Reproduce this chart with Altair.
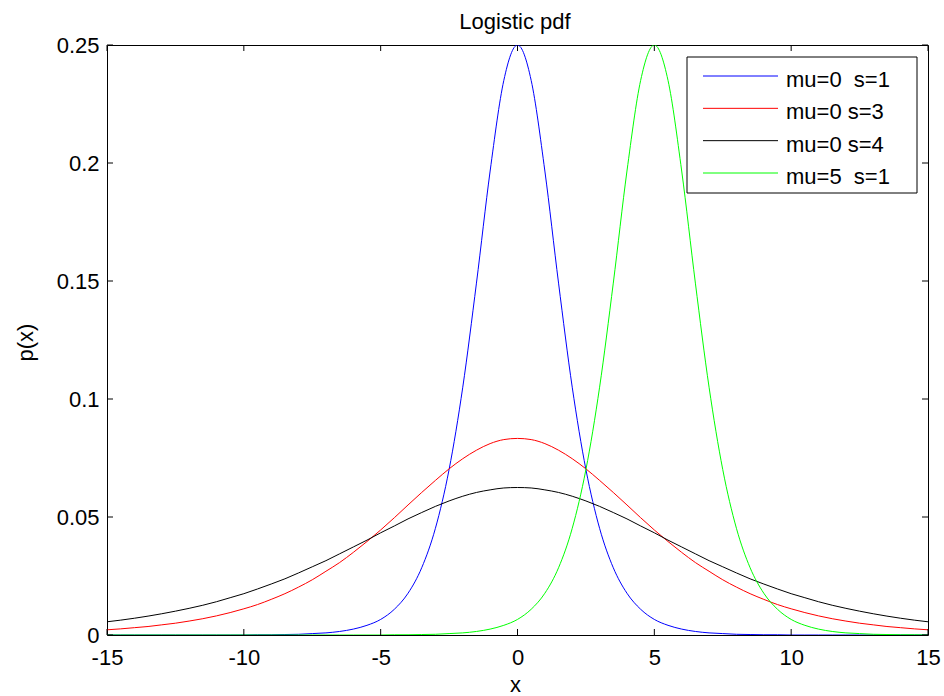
import altair as alt
import pandas as pd

FONT = "Liberation Sans"

# sample grid (x positions)
x_grid = [-15.0, -14.5, -14.0, -13.5, -13.0, -12.5, -12.0, -11.5, -11.0, -10.5,
          -10.0, -9.5, -9.0, -8.5, -8.0, -7.5, -7.0, -6.5, -6.0, -5.5,
          -5.0, -4.5, -4.0, -3.5, -3.0, -2.5, -2.0, -1.5, -1.0, -0.5,
          0.0,
          0.5, 1.0, 1.5, 2.0, 2.5, 3.0, 3.5, 4.0, 4.5, 5.0,
          5.5, 6.0, 6.5, 7.0, 7.5, 8.0, 8.5, 9.0, 9.5, 10.0,
          10.5, 11.0, 11.5, 12.0, 12.5, 13.0, 13.5, 14.0, 14.5, 15.0]

# values
p_mu0_s1 = [0, 0, 0, 0, 0, 0, 0, 0, 0, 0,
            0.0000, 0.0001, 0.0001, 0.0002, 0.0003, 0.0006, 0.0009, 0.0015, 0.0025, 0.0041,
            0.0066, 0.0109, 0.0177, 0.0285, 0.0452, 0.0701, 0.1050, 0.1491, 0.1966, 0.2350,
            0.2500,
            0.2350, 0.1966, 0.1491, 0.1050, 0.0701, 0.0452, 0.0285, 0.0177, 0.0109, 0.0066,
            0.0041, 0.0025, 0.0015, 0.0009, 0.0006, 0.0003, 0.0002, 0.0001, 0.0001, 0.0000,
            0, 0, 0, 0, 0, 0, 0, 0, 0, 0]

p_mu0_s3 = [0.0022, 0.0026, 0.0031, 0.0036, 0.0043, 0.0050, 0.0059, 0.0069, 0.0081, 0.0095,
            0.0111, 0.0129, 0.0151, 0.0175, 0.0203, 0.0234, 0.0270, 0.0307, 0.0350, 0.0396,
            0.0445, 0.0497, 0.0551, 0.0604, 0.0655, 0.0704, 0.0747, 0.0783, 0.0811, 0.0828,
            0.0833,
            0.0828, 0.0811, 0.0783, 0.0747, 0.0704, 0.0655, 0.0604, 0.0551, 0.0497, 0.0445,
            0.0396, 0.0350, 0.0307, 0.0270, 0.0234, 0.0203, 0.0175, 0.0151, 0.0129, 0.0111,
            0.0095, 0.0081, 0.0069, 0.0059, 0.0050, 0.0043, 0.0036, 0.0031, 0.0026, 0.0022]

p_mu0_s4 = [0.0056, 0.0063, 0.0071, 0.0080, 0.0090, 0.0101, 0.0113, 0.0126, 0.0141, 0.0158,
            0.0175, 0.0195, 0.0216, 0.0238, 0.0263, 0.0289, 0.0315, 0.0344, 0.0373, 0.0402,
            0.0433, 0.0462, 0.0492, 0.0519, 0.0545, 0.0568, 0.0588, 0.0604, 0.0615, 0.0623,
            0.0625,
            0.0623, 0.0615, 0.0604, 0.0588, 0.0568, 0.0545, 0.0519, 0.0492, 0.0462, 0.0433,
            0.0402, 0.0373, 0.0344, 0.0315, 0.0289, 0.0263, 0.0238, 0.0216, 0.0195, 0.0175,
            0.0158, 0.0141, 0.0126, 0.0113, 0.0101, 0.0090, 0.0080, 0.0071, 0.0063, 0.0056]

p_mu5_s1 = [0, 0, 0, 0, 0, 0, 0, 0, 0, 0,
            0, 0, 0, 0, 0, 0, 0, 0, 0, 0,
            0.0000, 0.0001, 0.0001, 0.0002, 0.0003, 0.0006, 0.0009, 0.0015, 0.0025, 0.0041,
            0.0066,
            0.0109, 0.0177, 0.0285, 0.0452, 0.0701, 0.1050, 0.1491, 0.1966, 0.2350, 0.2500,
            0.2350, 0.1966, 0.1491, 0.1050, 0.0701, 0.0452, 0.0285, 0.0177, 0.0109, 0.0066,
            0.0041, 0.0025, 0.0015, 0.0009, 0.0006, 0.0003, 0.0002, 0.0001, 0.0001, 0.0000]

series_names = ["mu=0\u00a0 s=1", "mu=0 s=3", "mu=0 s=4", "mu=5\u00a0 s=1"]
series_colors = ["#0000ff", "#ff0000", "#000000", "#00ff00"]
series_values = [p_mu0_s1, p_mu0_s3, p_mu0_s4, p_mu5_s1]

x_ticks = [-15, -10, -5, 0, 5, 10, 15]
y_ticks = [0, 0.05, 0.1, 0.15, 0.2, 0.25]
title_text = ["Logistic pdf"]

rows = []
for name, vals in zip(series_names, series_values):
    for xv, pv in zip(x_grid, vals):
        rows.append({"series": name, "x": xv, "p": pv})
df = pd.DataFrame(rows)

W, H = 821, 590

color_enc = alt.Color("series:N", scale=alt.Scale(domain=series_names, range=series_colors), legend=None)

axis_style = dict(labelFont=FONT, labelFontSize=22, labelColor="black",
                  titleFont=FONT, titleFontSize=22, titleFontWeight="normal", titleColor="black",
                  ticks=False, domain=False, grid=False, labelFlush=False, labelOverlap=False,
                  labelExpr="toString(datum.value)")
x_axis = alt.Axis(values=x_ticks, title="x", labelPadding=12,
                  titleX=408, titleY=49, titleBaseline="middle", **axis_style)
y_axis = alt.Axis(values=y_ticks, title="p(x)", labelPadding=8,
                  titleAngle=270, titleX=-70, titleY=297, titleBaseline="bottom",
                  titleAlign="center", **axis_style)
x_scale = alt.Scale(domain=[-15, 15], nice=False, zero=False)
y_scale = alt.Scale(domain=[0, 0.25], nice=False)

lines = alt.Chart(df).mark_line(strokeWidth=1, interpolate="monotone", clip=True).encode(
    x=alt.X("x:Q", scale=x_scale, axis=x_axis),
    y=alt.Y("p:Q", scale=y_scale, axis=y_axis),
    color=color_enc,
    order="x:Q",
)

xt = pd.DataFrame({"x": x_ticks})
yt = pd.DataFrame({"p": y_ticks})
tick_len = 6
bottom_ticks = alt.Chart(xt).mark_rule(color="black", strokeWidth=1).encode(
    x=alt.X("x:Q", scale=x_scale, axis=x_axis), y=alt.value(H), y2=alt.value(H - tick_len))
top_ticks = alt.Chart(xt).mark_rule(color="black", strokeWidth=1).encode(
    x=alt.X("x:Q", scale=x_scale, axis=x_axis), y=alt.value(0), y2=alt.value(tick_len))
left_ticks = alt.Chart(yt).mark_rule(color="black", strokeWidth=1).encode(
    y=alt.Y("p:Q", scale=y_scale, axis=y_axis), x=alt.value(0), x2=alt.value(tick_len))
right_ticks = alt.Chart(yt).mark_rule(color="black", strokeWidth=1).encode(
    y=alt.Y("p:Q", scale=y_scale, axis=y_axis), x=alt.value(W), x2=alt.value(W - tick_len))

main = alt.layer(lines, bottom_ticks, top_ticks, left_ticks, right_ticks)

# legend
leg_df = pd.DataFrame({"series": series_names})
leg_y = alt.Y("series:N", scale=alt.Scale(type="point", domain=series_names, range=[31, 128], padding=0), axis=None)
legend_box = alt.Chart(pd.DataFrame({"k": [0]})).mark_rect(fill="white", stroke="black", strokeWidth=1).encode(
    x=alt.value(580), x2=alt.value(810), y=alt.value(12), y2=alt.value(148))
legend_lines = alt.Chart(leg_df).mark_rule(strokeWidth=1).encode(
    x=alt.value(596), x2=alt.value(671), y=leg_y, color=color_enc)
legend_text = alt.Chart(leg_df).mark_text(align="left", baseline="alphabetic", dy=11,
                                          font=FONT, fontSize=22, color="black").encode(
    x=alt.value(679), y=leg_y, text="series:N")

# chart title drawn as text above the plot area
title_mark = alt.Chart(pd.DataFrame({"t": title_text})).mark_text(
    align="center", baseline="alphabetic", font=FONT, fontSize=22, color="black").encode(
    x=alt.value(408), y=alt.value(-16.5), text="t:N")

legend = alt.layer(legend_box, legend_lines, legend_text, title_mark)

chart = alt.layer(main, legend).resolve_scale(y="independent").properties(
    width=W, height=H,
    padding={"left": 107, "top": 45, "right": 16, "bottom": 61},
    autosize=alt.AutoSizeParams(type="none"),
).configure(background="white").configure_view(stroke="black", strokeWidth=1)

chart.save("out.html", embed_options={"renderer": "svg", "actions": False})
